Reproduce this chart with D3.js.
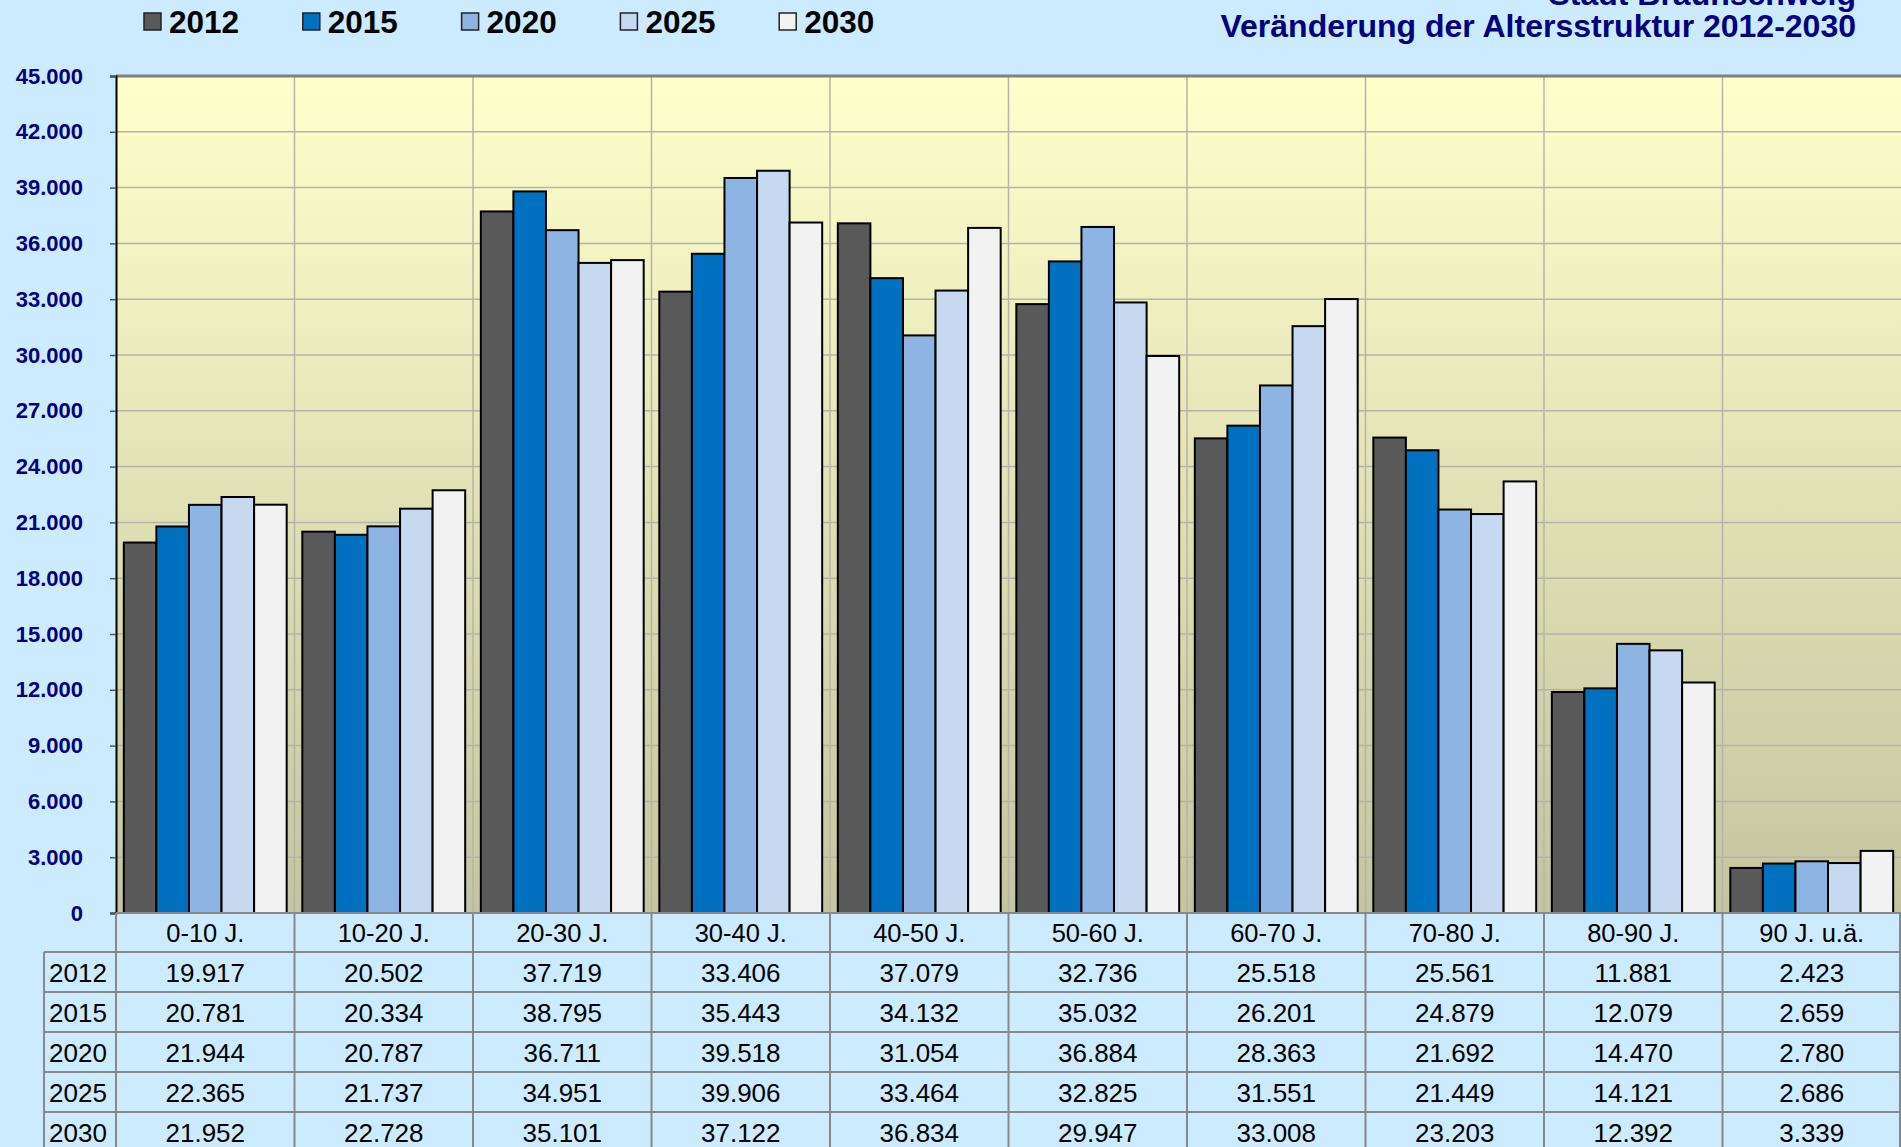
<!DOCTYPE html>
<html>
<head>
<meta charset="utf-8">
<script src="https://cdn.jsdelivr.net/npm/d3@7"></script>
<style>
  html, body { margin: 0; padding: 0; background: #cdebfe; overflow: hidden; }
  svg { display: block; font-family: "Liberation Sans", Arial, sans-serif; }
</style>
</head>
<body>
<div id="chart"></div>
<script>
const CATEGORIES = ['0-10 J.', '10-20 J.', '20-30 J.', '30-40 J.', '40-50 J.',
  '50-60 J.', '60-70 J.', '70-80 J.', '80-90 J.', '90 J. u.ä.'];
const YEARS = ['2012', '2015', '2020', '2025', '2030'];
const V2012 = [19917, 20502, 37719, 33406, 37079, 32736, 25518, 25561, 11881, 2423];
const V2015 = [20781, 20334, 38795, 35443, 34132, 35032, 26201, 24879, 12079, 2659];
const V2020 = [21944, 20787, 36711, 39518, 31054, 36884, 28363, 21692, 14470, 2780];
const V2025 = [22365, 21737, 34951, 39906, 33464, 32825, 31551, 21449, 14121, 2686];
const V2030 = [21952, 22728, 35101, 37122, 36834, 29947, 33008, 23203, 12392, 3339];
const COLORS = ['#595959', '#0070c0', '#8eb4e3', '#c6d9f1', '#f2f2f2'];
const Y_MAX = 45000;
const Y_STEP = 3000;
const TITLE_TOP = 'Stadt Braunschweig';
const TITLE = 'Veränderung der Altersstruktur 2012-2030';

const SERIES = [V2012, V2015, V2020, V2025, V2030];

const width = 1901, height = 1147;
const margin = { top: 76, left: 116, right: 0 };
const plotBottom = 913;
const rowH = 40;

const de = d3.formatLocale({ decimal: ',', thousands: '.', grouping: [3], currency: ['', '€'] });
const fmt = de.format(',.0f');

const svg = d3.select('#chart').append('svg')
  .attr('width', width).attr('height', height);

const defs = svg.append('defs');
const grad = defs.append('linearGradient')
  .attr('id', 'plotBg').attr('x1', 0).attr('y1', 0).attr('x2', 0).attr('y2', 1);
grad.append('stop').attr('offset', '0%').attr('stop-color', '#ffffcc');
grad.append('stop').attr('offset', '100%').attr('stop-color', '#c4c4a0');

const x = d3.scaleBand()
  .domain(CATEGORIES)
  .range([margin.left, width - margin.right])
  .paddingInner(0).paddingOuter(0);

const xs = d3.scaleBand()
  .domain(YEARS)
  .range([0, x.bandwidth()])
  .paddingInner(0).paddingOuter(0.24);

const y = d3.scaleLinear().domain([0, Y_MAX]).range([plotBottom, margin.top]);
const yTicks = d3.range(0, Y_MAX + 1, Y_STEP);

// plot background
svg.append('rect')
  .attr('x', margin.left).attr('y', margin.top)
  .attr('width', width - margin.right - margin.left)
  .attr('height', plotBottom - margin.top)
  .attr('fill', 'url(#plotBg)');

// grid
svg.append('g')
  .selectAll('line')
  .data(yTicks.slice(1, -1))
  .join('line')
  .attr('x1', margin.left).attr('x2', width)
  .attr('y1', d => y(d)).attr('y2', d => y(d))
  .attr('stroke', '#b4b4aa').attr('stroke-width', 1.5);

svg.append('g')
  .selectAll('line')
  .data(CATEGORIES.slice(1))
  .join('line')
  .attr('x1', d => x(d)).attr('x2', d => x(d))
  .attr('y1', margin.top).attr('y2', plotBottom)
  .attr('stroke', '#b4b4aa').attr('stroke-width', 1.5);

// top border of plot
svg.append('line')
  .attr('x1', margin.left).attr('x2', width)
  .attr('y1', margin.top).attr('y2', margin.top)
  .attr('stroke', '#808080').attr('stroke-width', 3);

// bars
const groups = svg.append('g')
  .selectAll('g')
  .data(CATEGORIES)
  .join('g')
  .attr('transform', d => `translate(${x(d)},0)`);

groups.selectAll('rect')
  .data((c, i) => YEARS.map((yr, k) => ({ yr, k, value: SERIES[k][i] })))
  .join('rect')
  .attr('x', d => xs(d.yr))
  .attr('y', d => y(d.value))
  .attr('width', xs.bandwidth())
  .attr('height', d => plotBottom - y(d.value))
  .attr('fill', d => COLORS[d.k])
  .attr('stroke', '#000')
  .attr('stroke-width', 2);

// y axis
const yAxis = svg.append('g')
  .attr('transform', `translate(${margin.left},0)`)
  .call(d3.axisLeft(y).tickValues(yTicks).tickFormat(fmt).tickSize(6).tickPadding(27));
yAxis.select('.domain').attr('stroke', '#000').attr('stroke-width', 2);
yAxis.selectAll('.tick line').attr('stroke', '#555').attr('stroke-width', 1.5);
yAxis.selectAll('.tick text')
  .attr('fill', '#000080')
  .style('font-size', '22px')
  .style('font-weight', 'bold')
  .style('font-family', '"Liberation Sans", Arial, sans-serif');

// data table
const table = svg.append('g');
const tableBottom = plotBottom + rowH * (YEARS.length + 1) + 2;

table.selectAll('line.col')
  .data(CATEGORIES.concat(['end']))
  .join('line')
  .attr('class', 'col')
  .attr('x1', d => d === 'end' ? width - 1 : x(d))
  .attr('x2', d => d === 'end' ? width - 1 : x(d))
  .attr('y1', plotBottom).attr('y2', tableBottom)
  .attr('stroke', '#888').attr('stroke-width', 2);

table.append('line')
  .attr('x1', 44).attr('x2', 44)
  .attr('y1', plotBottom + rowH - 1).attr('y2', tableBottom)
  .attr('stroke', '#888').attr('stroke-width', 2);

table.selectAll('line.row')
  .data(d3.range(1, YEARS.length + 1))
  .join('line')
  .attr('class', 'row')
  .attr('x1', 44).attr('x2', width)
  .attr('y1', d => plotBottom + d * rowH - 1)
  .attr('y2', d => plotBottom + d * rowH - 1)
  .attr('stroke', '#888').attr('stroke-width', 2);

table.append('line')
  .attr('x1', margin.left).attr('x2', width)
  .attr('y1', plotBottom).attr('y2', plotBottom)
  .attr('stroke', '#888').attr('stroke-width', 2);

table.selectAll('text.head')
  .data(CATEGORIES)
  .join('text')
  .attr('class', 'head')
  .attr('x', d => x(d) + x.bandwidth() / 2)
  .attr('y', plotBottom + 29)
  .attr('text-anchor', 'middle')
  .attr('font-size', 25.5)
  .attr('fill', '#000')
  .text(d => d);

YEARS.forEach((yr, k) => {
  const top = plotBottom + (k + 1) * rowH - 1;
  table.append('text')
    .attr('x', 49)
    .attr('y', top + 30)
    .attr('font-size', 26)
    .attr('fill', '#000')
    .text(yr);
  table.selectAll(null)
    .data(SERIES[k])
    .join('text')
    .attr('x', (d, i) => x(CATEGORIES[i]) + x.bandwidth() / 2)
    .attr('y', top + 30)
    .attr('text-anchor', 'middle')
    .attr('font-size', 26)
    .attr('fill', '#000')
    .text(d => fmt(d));
});

// legend
const legend = svg.append('g')
  .selectAll('g')
  .data(YEARS)
  .join('g')
  .attr('transform', (d, i) => `translate(${144 + i * 158.8},0)`);
legend.append('rect')
  .attr('x', 0).attr('y', 13)
  .attr('width', 17).attr('height', 17)
  .attr('fill', (d, i) => COLORS[i])
  .attr('stroke', '#222').attr('stroke-width', 1.5);
legend.append('text')
  .attr('x', 25).attr('y', 33)
  .attr('font-size', 31.5).attr('font-weight', 'bold')
  .attr('fill', '#000')
  .text(d => d);

// titles (the upper line is cut off at the top edge, as in the original)
svg.append('text')
  .attr('x', 1856).attr('y', 5)
  .attr('text-anchor', 'end')
  .attr('font-size', 32).attr('font-weight', 'bold')
  .attr('fill', '#000080')
  .text(TITLE_TOP);
svg.append('text')
  .attr('x', 1856).attr('y', 37)
  .attr('text-anchor', 'end')
  .attr('font-size', 32).attr('font-weight', 'bold')
  .attr('fill', '#000080')
  .text(TITLE);
</script>
</body>
</html>
